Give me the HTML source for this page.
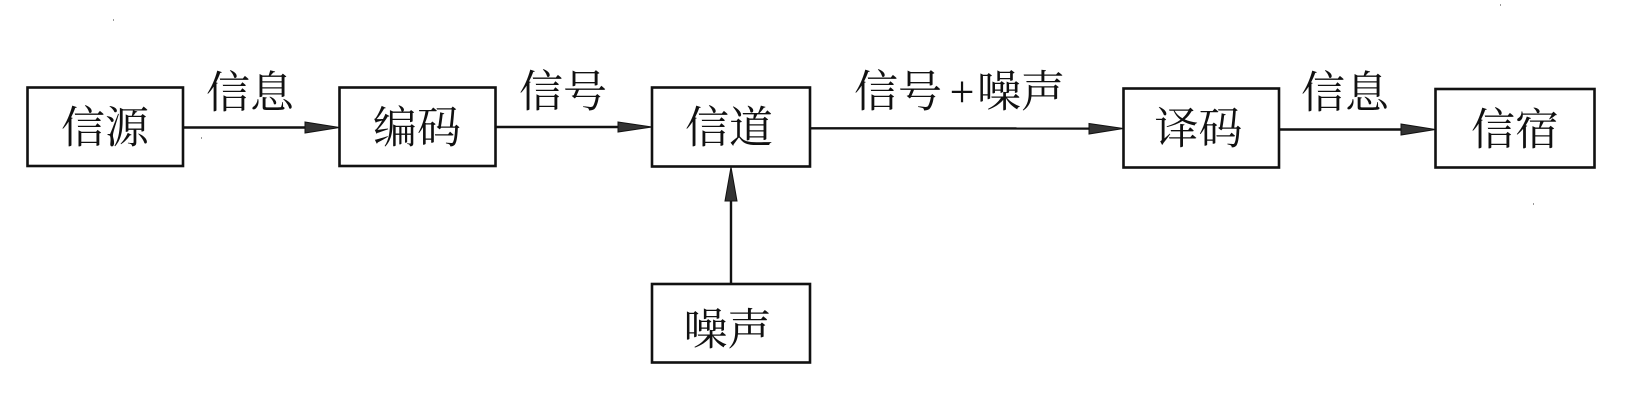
<!DOCTYPE html>
<html>
<head>
<meta charset="utf-8">
<style>
html,body{margin:0;padding:0;background:#fff;}
svg{display:block;}
text{font-family:"Liberation Serif","Noto Serif CJK SC",serif;font-size:44px;fill:#111;}
</style>
</head>
<body>
<svg width="1646" height="403" viewBox="0 0 1646 403" xmlns="http://www.w3.org/2000/svg">
  <g fill="none" stroke="#111" stroke-width="2.6">
    <rect x="27.5" y="87.5" width="155.5" height="78.5"/>
    <rect x="339.5" y="87.5" width="156" height="78.5"/>
    <rect x="652" y="87.5" width="158" height="79"/>
    <rect x="1123.5" y="88.5" width="155.5" height="79"/>
    <rect x="1435.5" y="89" width="159" height="78.5"/>
    <rect x="652" y="284" width="158" height="78.5"/>
  </g>
  <g stroke="#111" stroke-width="2.4">
    <line x1="183" y1="127.5" x2="306" y2="127.5"/>
    <line x1="495.5" y1="127" x2="619" y2="127"/>
    <line x1="810" y1="128.3" x2="1090" y2="128.5"/>
    <line x1="1279" y1="129.5" x2="1402" y2="129.5"/>
    <line x1="731" y1="284" x2="731" y2="199"/>
  </g>
  <g fill="#333" stroke="#111" stroke-width="1">
    <polygon points="305,122 339.5,127.5 305,133"/>
    <polygon points="618,122 652,127 618,132"/>
    <polygon points="1089,123.5 1123.5,128.5 1089,134"/>
    <polygon points="1401,124 1435.5,129.5 1401,135"/>
    <polygon points="725,201 731,167 737,201"/>
  </g>
  <g text-anchor="middle" dominant-baseline="central">
    <text x="105" y="128">信源</text>
    <text x="417" y="128">编码</text>
    <text x="729" y="128">信道</text>
    <text x="1198.5" y="129">译码</text>
    <text x="1515" y="130">信宿</text>
    <text x="727.5" y="330">噪声</text>
    <text x="250" y="93">信息</text>
    <text x="563" y="92">信号</text>
    <text x="898" y="92">信号</text>
    <text x="962" y="92">+</text>
    <text x="1021" y="92">噪声</text>
    <text x="1345" y="93">信息</text>
  </g>
  <g fill="#999">
    <rect x="113" y="19" width="1" height="2"/>
    <rect x="1500" y="4" width="1" height="2"/>
    <rect x="1533" y="203" width="1" height="2"/>
    <rect x="201" y="137" width="1" height="2"/>
  </g>
</svg>
</body>
</html>
